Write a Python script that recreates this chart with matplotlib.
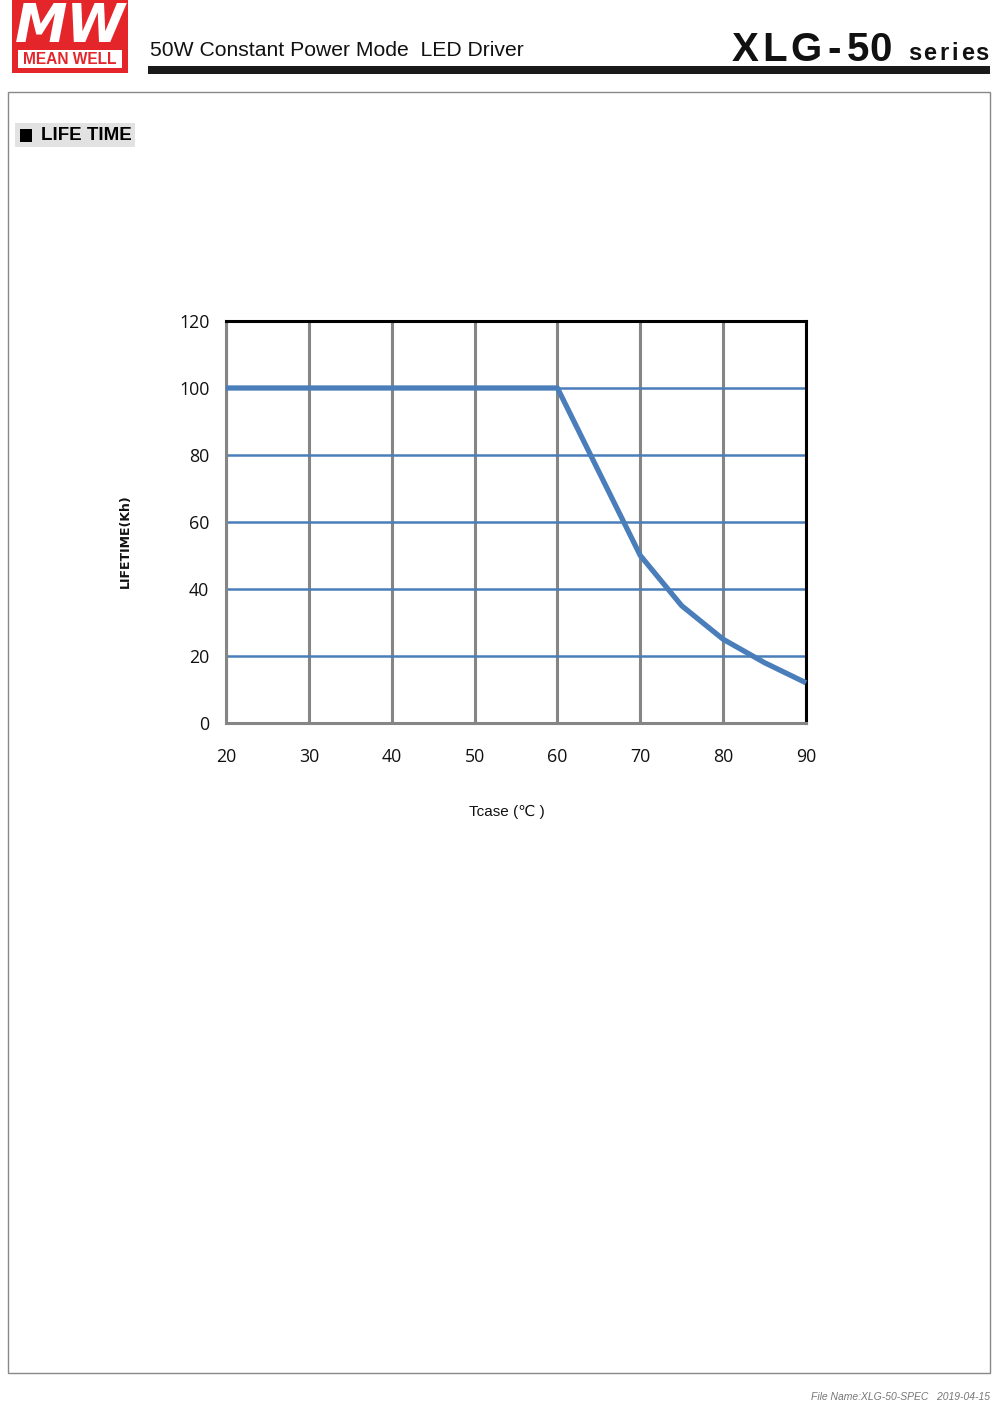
import matplotlib
matplotlib.use("Agg")
import matplotlib.pyplot as plt
from matplotlib.patches import Rectangle

# Data
tcase = [20, 30, 40, 50, 60, 65, 70, 75, 80, 85, 90]
lifetime = [100, 100, 100, 100, 100, 75, 50, 35, 25, 18, 12]
x_ticks = [20, 30, 40, 50, 60, 70, 80, 90]
y_ticks = [0, 20, 40, 60, 80, 100, 120]

W, H = 1000, 1402
fig = plt.figure(figsize=(W / 100, H / 100), dpi=100)
fig.patch.set_facecolor("white")

def fx(px):
    return px / W

def fy(py):
    return 1 - py / H

RED = "#e4262b"

# ---- Header ----
fig.patches.append(Rectangle((fx(12), fy(73)), fx(128) - fx(12), fy(0) - fy(73),
                             transform=fig.transFigure, facecolor=RED, edgecolor="none"))
fig.patches.append(Rectangle((fx(18), fy(68)), fx(122) - fx(18), fy(50) - fy(68),
                             transform=fig.transFigure, facecolor="white", edgecolor="none"))
fig.text(fx(70), fy(27), "MW", color="white", fontsize=38, fontweight="bold", style="italic",
         ha="center", va="center", family="DejaVu Sans")
fig.text(fx(70), fy(59.5), "MEAN WELL", color=RED, fontsize=11.2, fontweight="bold",
         ha="center", va="center", family="Liberation Sans")
fig.text(fx(150), fy(50), "50W Constant Power Mode  LED Driver", fontsize=15.2,
         ha="left", va="center", family="Liberation Sans", color="#111111")
fig.patches.append(Rectangle((fx(148), fy(74)), fx(990) - fx(148), fy(66) - fy(74),
                             transform=fig.transFigure, facecolor="#1a1a1a", edgecolor="none"))

# "XLG-50" with wide letter spacing (one real text per glyph)
model_chars = ["X", "L", "G", "-", "5", "0"]
model_cx = [745, 775, 806, 834, 858, 881]
for ch, cx in zip(model_chars, model_cx):
    fig.text(fx(cx), fy(61), ch, fontsize=29, fontweight="bold", ha="center", va="baseline",
             family="Liberation Sans", color="#111111")
series_chars = ["s", "e", "r", "i", "e", "s"]
series_cx = [915, 930, 944, 955, 968, 982]
for ch, cx in zip(series_chars, series_cx):
    fig.text(fx(cx), fy(60), ch, fontsize=17, fontweight="bold", ha="center", va="baseline",
             family="Liberation Sans", color="#111111")

# Page border
fig.patches.append(Rectangle((fx(8), fy(1373)), fx(990) - fx(8), fy(92) - fy(1373),
                             transform=fig.transFigure, facecolor="none", edgecolor="#888888", linewidth=1))

# Section title
fig.patches.append(Rectangle((fx(15), fy(147)), fx(135) - fx(15), fy(123) - fy(147),
                             transform=fig.transFigure, facecolor="#e2e2e2", edgecolor="none"))
fig.patches.append(Rectangle((fx(20), fy(142)), fx(32) - fx(20), fy(129) - fy(142),
                             transform=fig.transFigure, facecolor="black", edgecolor="none"))
fig.text(fx(41), fy(135.5), "LIFE TIME", fontsize=13.5, fontweight="bold",
         ha="left", va="center", family="Liberation Sans", color="black")

# Footer
fig.text(fx(990), fy(1397), "File Name:XLG-50-SPEC   2019-04-15", fontsize=7.5, style="italic",
         ha="right", va="center", family="Liberation Sans", color="#777777")

# ---- Chart ----
ax = fig.add_axes([fx(226), fy(723), fx(806) - fx(226), fy(321) - fy(723)])
ax.set_xlim(20, 90)
ax.set_ylim(0, 120)
ax.set_xticks(x_ticks)
ax.set_yticks(y_ticks)
ax.xaxis.grid(True, color="#858585", linewidth=2.2)
ax.yaxis.grid(True, color="#4a7ebb", linewidth=1.8)
ax.set_axisbelow(True)
for s in ["left", "bottom"]:
    ax.spines[s].set_color("#858585")
    ax.spines[s].set_linewidth(2.2)
for s in ["top", "right"]:
    ax.spines[s].set_color("black")
    ax.spines[s].set_linewidth(2.2)
ax.tick_params(length=0)
ax.tick_params(axis="x", pad=18, labelsize=12.8)
ax.tick_params(axis="y", pad=12, labelsize=12.8)
for lab in ax.get_xticklabels() + ax.get_yticklabels():
    lab.set_family("Open Sans")
    lab.set_color("#111111")

ax.plot(tcase, lifetime, color="#4a7ebb", linewidth=3.8, solid_capstyle="butt",
        solid_joinstyle="round", clip_on=False, zorder=5)

fig.text(fx(125), fy(541), "LIFETIME(Kh)", rotation=90, fontsize=9, fontweight="bold",
         ha="center", va="center", family="DejaVu Sans", color="#111111")
fig.text(fx(507), fy(812), "Tcase (\u2103 )", fontsize=11, ha="center", va="center",
         family=["Liberation Sans", "DejaVu Sans"], color="#111111")

fig.savefig("out.png", dpi=100)
